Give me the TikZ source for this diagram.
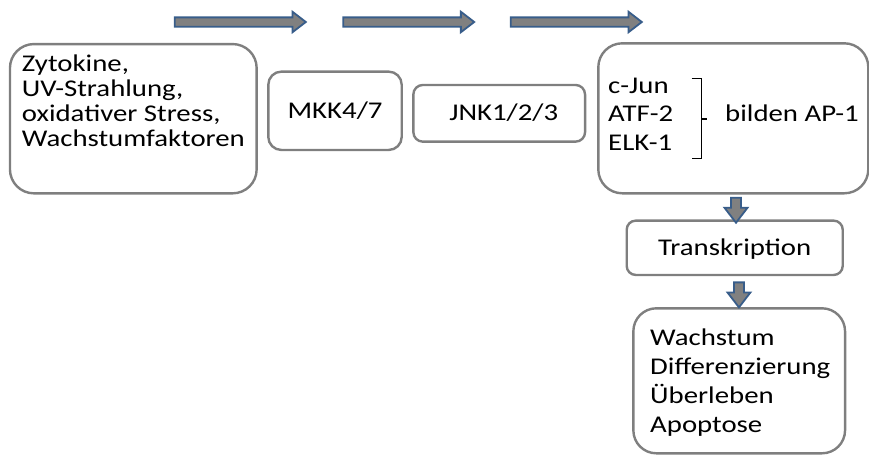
\documentclass[tikz,border=0pt]{standalone}
\usepackage{fontspec}
\setmainfont{Carlito}[FakeStretch=1.2]
\usetikzlibrary{shapes.arrows,calc}
\definecolor{boxgray}{HTML}{7F7F7F}
\definecolor{arrowblue}{HTML}{385D8A}
\definecolor{arrowgray}{HTML}{808080}

\begin{document}
\begin{tikzpicture}[x=1pt,y=-1pt,
    box/.style={draw=boxgray, line width=2.4pt, rectangle, inner sep=0pt,
      text height=15pt, text depth=0pt, font=\fontsize{24}{26}\selectfont},
    txt/.style={inner sep=0pt, align=left, anchor=base west},
    blockarrow/.style={single arrow, draw=arrowblue, fill=arrowgray, line width=1.8pt,
      inner xsep=0pt, single arrow tip angle=75},
    rightarrow/.style={blockarrow, inner ysep=3.75pt, minimum height=131pt,
      single arrow head extend=5.6pt},
    downarrow/.style={blockarrow, inner ysep=4.1pt, minimum height=25pt,
      single arrow head extend=6.5pt, rotate=-90}]
  \useasboundingbox (0,0) rectangle (869,455);

  % Boxes of the signalling chain
  \node[box, rounded corners=24pt, minimum width=246.7pt, minimum height=149.3pt] (stimuli) at (133.3,118.7) {};
  \node[box, rounded corners=13pt, minimum width=133.4pt, minimum height=78.3pt] (mkk) at (335,110.8) {MKK4/7};
  \node[box, rounded corners=9.5pt, minimum width=171.7pt, minimum height=56.7pt] (jnk) at (499.2,113.3) {\hspace{9pt}JNK1/2/3};
  \node[box, rounded corners=24pt, minimum width=270pt, minimum height=150pt] (ap1) at (733.3,118.3) {};
  \node[box, rounded corners=9pt, minimum width=216pt, minimum height=54.3pt] (trans) at (734.7,247.8) {Transkription};
  \node[box, rounded corners=23pt, minimum width=211.7pt, minimum height=145pt] (outcome) at (739.2,380.8) {};

  % Texts inside the large boxes (base = last line)
  \node[txt, font=\fontsize{24}{25}\selectfont] (stimulitext) at (21.7,146.7)
    {Zytokine,\\UV-Strahlung,\\oxidativer Stress,\\Wachstumfaktoren};
  \node[txt, font=\fontsize{24}{28.5}\selectfont] (factors) at (608,150)
    {c-Jun\\ATF-2\\ELK-1};
  \node[txt, font=\fontsize{24}{26}\selectfont] (apone) at (725,121.7) {bilden AP-1};
  \node[txt, font=\fontsize{24}{28.8}\selectfont] (outcometext) at (650,432)
    {Wachstum\\Differenzierung\\Überleben\\Apoptose};

  % Bracket
  \coordinate (brtop) at (691.7,78.3);
  \coordinate (brbot) at (691.7,158.3);
  \draw[line width=1.5pt] (brtop) -- ++(10,0) |- (brbot);
  \draw[line width=1.5pt] (701.7,119) -- (707,119);

  % Block arrows on top
  \node[rightarrow] (arrowone) at (237.3,22) {};
  \node[rightarrow] (arrowtwo) at (405.7,22) {};
  \node[rightarrow] (arrowthree) at (573.3,22) {};

  % Block arrows downwards
  \node[downarrow] (downone) at ($(ap1.south)!0.5!(trans.north)+(2,0)$) {};
  \node[downarrow] (downtwo) at ($(trans.south)!0.5!(outcome.north)+(2,0)$) {};
\end{tikzpicture}
\end{document}
